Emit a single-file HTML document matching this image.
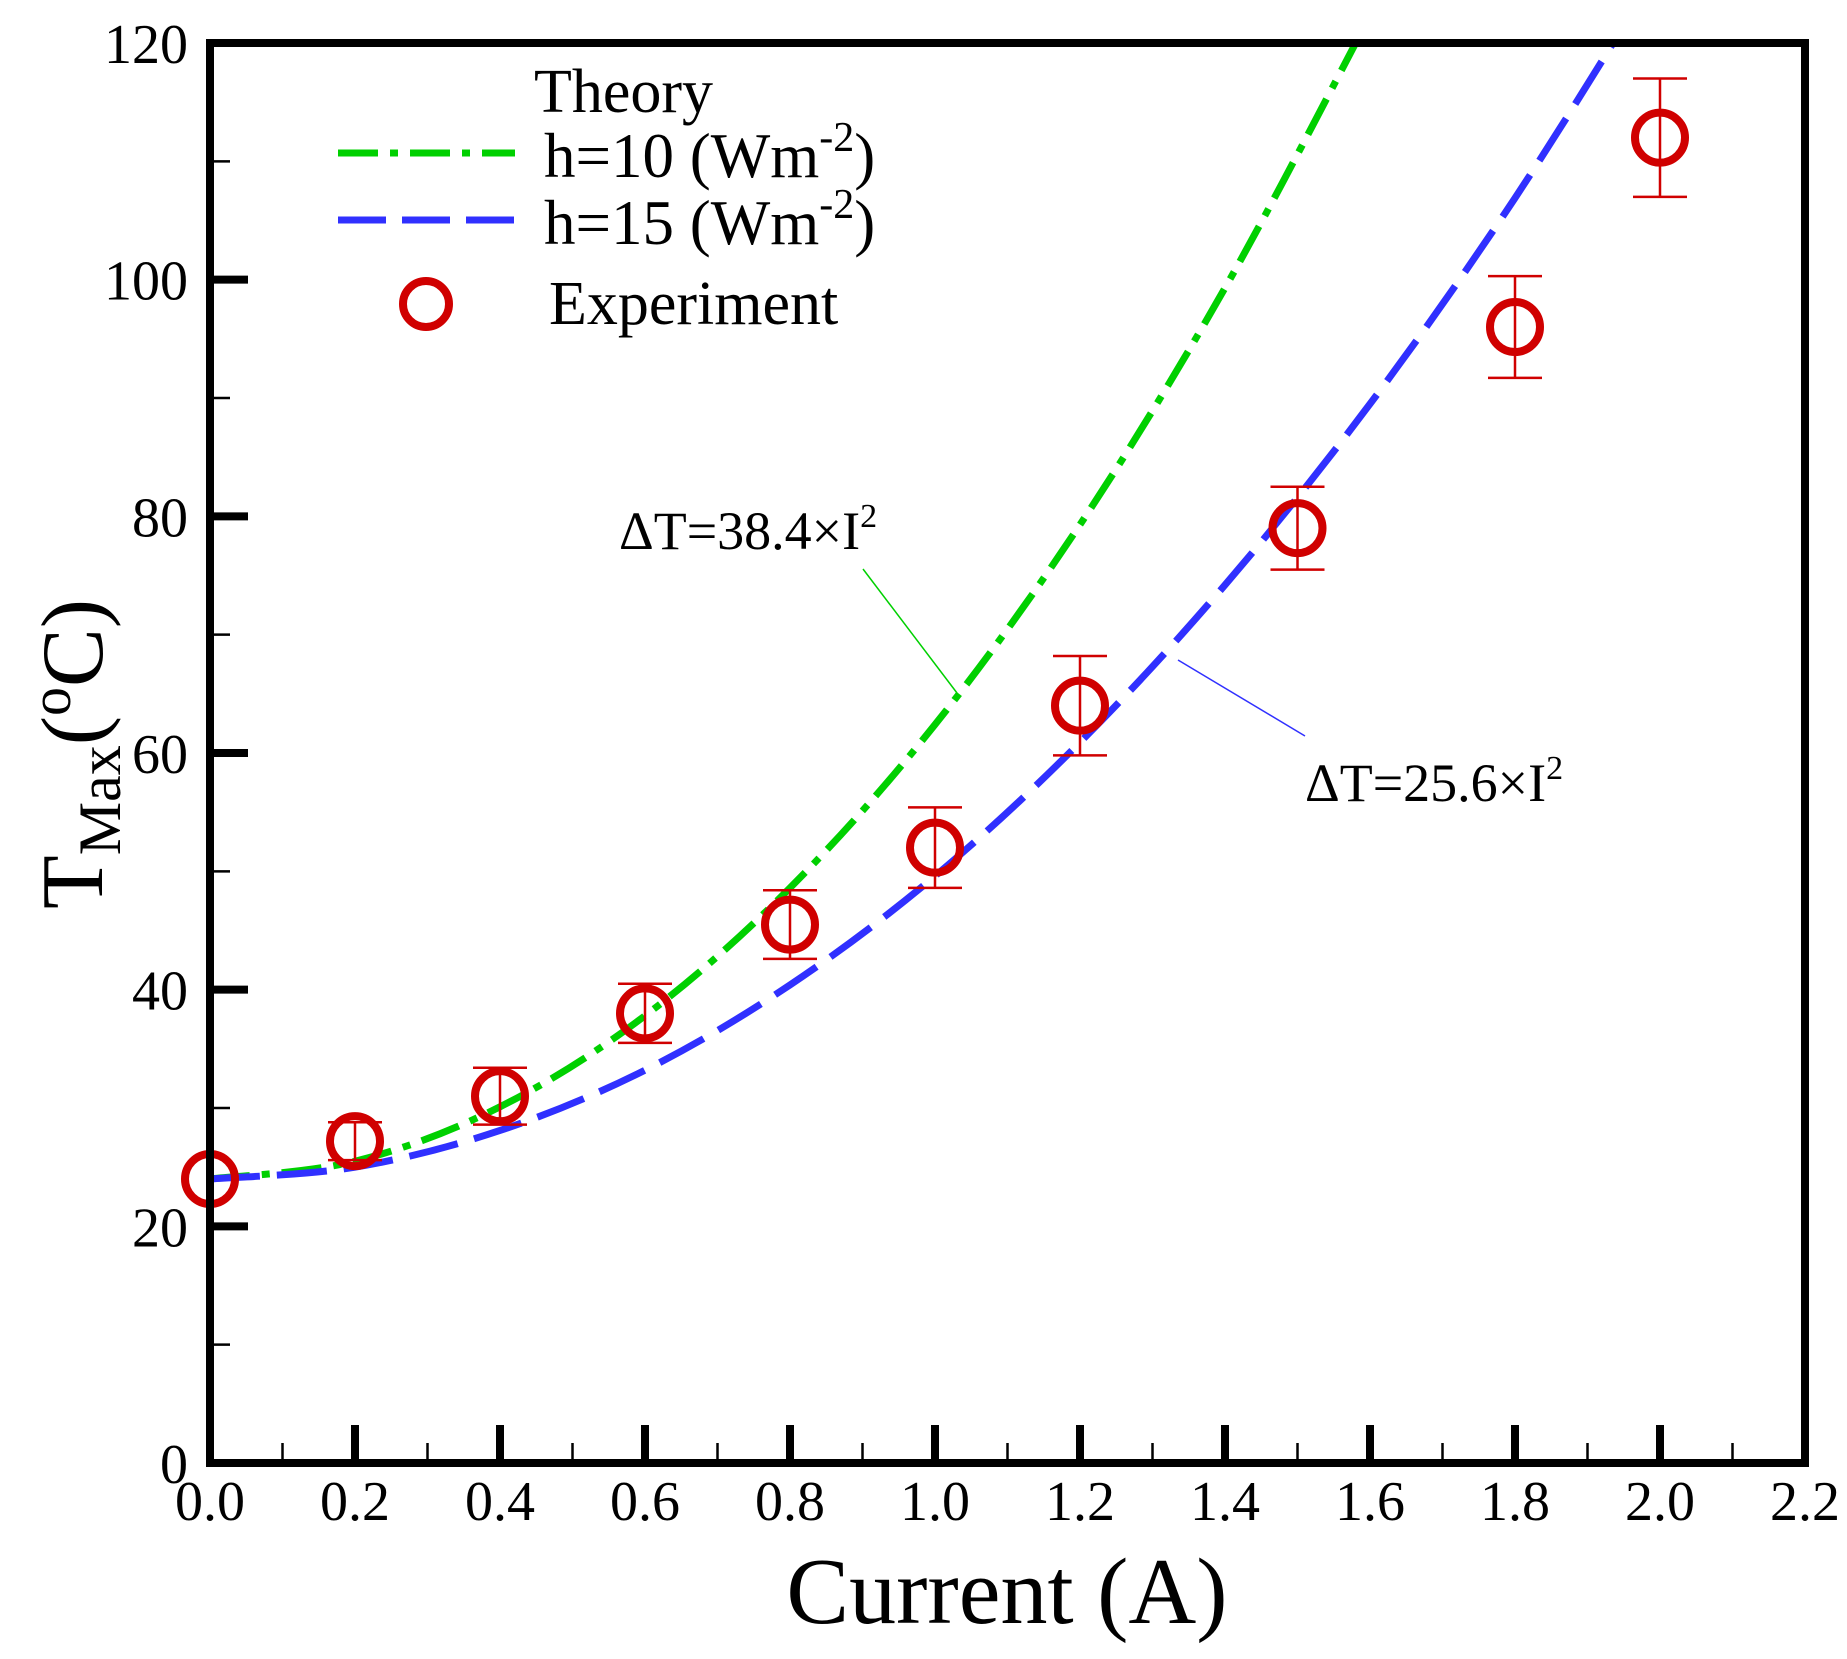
<!DOCTYPE html>
<html><head><meta charset="utf-8"><style>
html,body{margin:0;padding:0;background:#fff}
svg{display:block;font-family:"Liberation Serif",serif}
</style></head><body>
<svg id="chart" width="1847" height="1659" viewBox="0 0 1847 1659" xmlns="http://www.w3.org/2000/svg">
<defs><clipPath id="plotclip"><rect x="210" y="43" width="1595" height="1420"/></clipPath></defs>
<g id="ticks"></g>
<g id="curves" clip-path="url(#plotclip)"></g>
<g id="points"></g>
<rect x="210" y="43" width="1595" height="1420" fill="none" stroke="#000" stroke-width="8"/>
<g id="xlabels" font-size="56" text-anchor="middle"></g>
<g id="ylabels" font-size="56" text-anchor="end"></g>
<text x="1007" y="1623" font-size="94" text-anchor="middle">Current (A)</text>
<text transform="translate(102,754) rotate(-90)" font-size="88" text-anchor="middle">T<tspan font-size="60" dy="18">Max</tspan><tspan dy="-18">(</tspan><tspan font-size="58" dy="-32">o</tspan><tspan dy="32">C)</tspan></text>
<g>
<text x="534" y="112" font-size="62">Theory</text>
<line x1="338" y1="153" x2="515" y2="153" stroke="#00d000" stroke-width="7" stroke-dasharray="40 12 8 12"/>
<text x="544" y="177" font-size="63">h=10 (Wm<tspan font-size="42" dy="-26">-2</tspan><tspan dy="26">)</tspan></text>
<line x1="338" y1="220" x2="515" y2="220" stroke="#3030ff" stroke-width="7" stroke-dasharray="48 16"/>
<text x="544" y="244" font-size="63">h=15 (Wm<tspan font-size="42" dy="-26">-2</tspan><tspan dy="26">)</tspan></text>
<circle cx="426" cy="304" r="23" fill="none" stroke="#d00000" stroke-width="8"/>
<text x="549" y="324" font-size="62">Experiment</text>
</g>
<g>
<text x="619" y="549" font-size="54">ΔT=38.4×I<tspan font-size="34" dy="-22">2</tspan></text>
<line x1="863" y1="569" x2="957" y2="693" stroke="#00d000" stroke-width="1.5"/>
</g>
<g>
<text x="1305" y="801" font-size="54">ΔT=25.6×I<tspan font-size="34" dy="-22">2</tspan></text>
<line x1="1178" y1="660" x2="1305" y2="736" stroke="#3030ff" stroke-width="1.5"/>
</g>
</svg>
<script>
const xTicks = [0.0,0.2,0.4,0.6,0.8,1.0,1.2,1.4,1.6,1.8,2.0,2.2];
const xTickLabels = ["0.0","0.2","0.4","0.6","0.8","1.0","1.2","1.4","1.6","1.8","2.0","2.2"];
const yTicks = [0,20,40,60,80,100,120];
const yTickLabels = ["0","20","40","60","80","100","120"];
const expCurrent = [0,0.2,0.4,0.6,0.8,1.0,1.2,1.5,1.8,2.0];
const expTemp = [24,27.2,31,38,45.5,52,64,79,96,112];
const expErr = [0,1.6,2.4,2.5,2.9,3.4,4.2,3.5,4.3,5];
const h10Current = [0,0.2,0.4,0.6,0.8,1.0,1.2,1.4,1.6];
const h10Temp = [24,25.5,30.1,37.8,48.6,62.4,79.3,99.3,122.3];
const h15Current = [0,0.2,0.4,0.6,0.8,1.0,1.2,1.4,1.6,1.8,2.0];
const h15Temp = [24,25.0,28.1,33.2,40.4,49.6,60.9,74.2,89.5,106.9,126.4];

const NS = "http://www.w3.org/2000/svg";
const X = v => 210 + v * (1595 / 2.2);
const Y = v => 1463 - v * (1420 / 120);
function mk(tag, attrs, parent){const e=document.createElementNS(NS,tag);for(const k in attrs)e.setAttribute(k,attrs[k]);parent.appendChild(e);return e;}

const ticks = document.getElementById('ticks');
xTicks.forEach((v,i)=>{
  const l = mk('line',{x1:X(v),x2:X(v),y1:1463,y2:1425,stroke:'#000','stroke-width':8},ticks);
  
  
  if(i<xTicks.length-1){
    const m = mk('line',{x1:X(v+0.1),x2:X(v+0.1),y1:1463,y2:1443,stroke:'#000','stroke-width':2.5},ticks);
    
    
  }
  const t = mk('text',{x:X(v),y:1520},document.getElementById('xlabels'));
  t.textContent = xTickLabels[i];
  
  
});
yTicks.forEach((v,i)=>{
  const l = mk('line',{x1:210,x2:248,y1:Y(v),y2:Y(v),stroke:'#000','stroke-width':8},ticks);
  
  
  if(i<yTicks.length-1){
    const m = mk('line',{x1:210,x2:230,y1:Y(v+10),y2:Y(v+10),stroke:'#000','stroke-width':2.5},ticks);
    
    
  }
  const t = mk('text',{x:188,y:Y(v)+20},document.getElementById('ylabels'));
  t.textContent = yTickLabels[i];
  
  
});

function smoothPath(xs, ys){
  const p = xs.map((x,i)=>[X(x),Y(ys[i])]);
  let d = `M${p[0][0]},${p[0][1]}`;
  for(let i=0;i<p.length-1;i++){
    const p0=p[Math.max(0,i-1)],p1=p[i],p2=p[i+1],p3=p[Math.min(p.length-1,i+2)];
    const c1=[p1[0]+(p2[0]-p0[0])/6,p1[1]+(p2[1]-p0[1])/6];
    const c2=[p2[0]-(p3[0]-p1[0])/6,p2[1]-(p3[1]-p1[1])/6];
    d+=` C${c1[0]},${c1[1]} ${c2[0]},${c2[1]} ${p2[0]},${p2[1]}`;
  }
  return d;
}
const curves = document.getElementById('curves');
const g1 = mk('path',{d:smoothPath(h10Current,h10Temp),fill:'none',stroke:'#00d000','stroke-width':7,'stroke-dasharray':'40 12 8 12'},curves);


const g2 = mk('path',{d:smoothPath(h15Current,h15Temp),fill:'none',stroke:'#3030ff','stroke-width':7,'stroke-dasharray':'50 17'},curves);



const pts = document.getElementById('points');
expCurrent.forEach((c,i)=>{
  const x=X(c), yt=Y(expTemp[i]+expErr[i]), yb=Y(expTemp[i]-expErr[i]);
  if(expErr[i]>0){
    const e = mk('path',{d:`M${x},${yt}V${yb}M${x-27},${yt}H${x+27}M${x-27},${yb}H${x+27}`,stroke:'#d00000','stroke-width':2.5,fill:'none'},pts);
    
    
  }
  const m = mk('circle',{cx:x,cy:Y(expTemp[i]),r:25,fill:'none',stroke:'#d00000','stroke-width':8},pts);
  
  
});
</script>
</body></html>
